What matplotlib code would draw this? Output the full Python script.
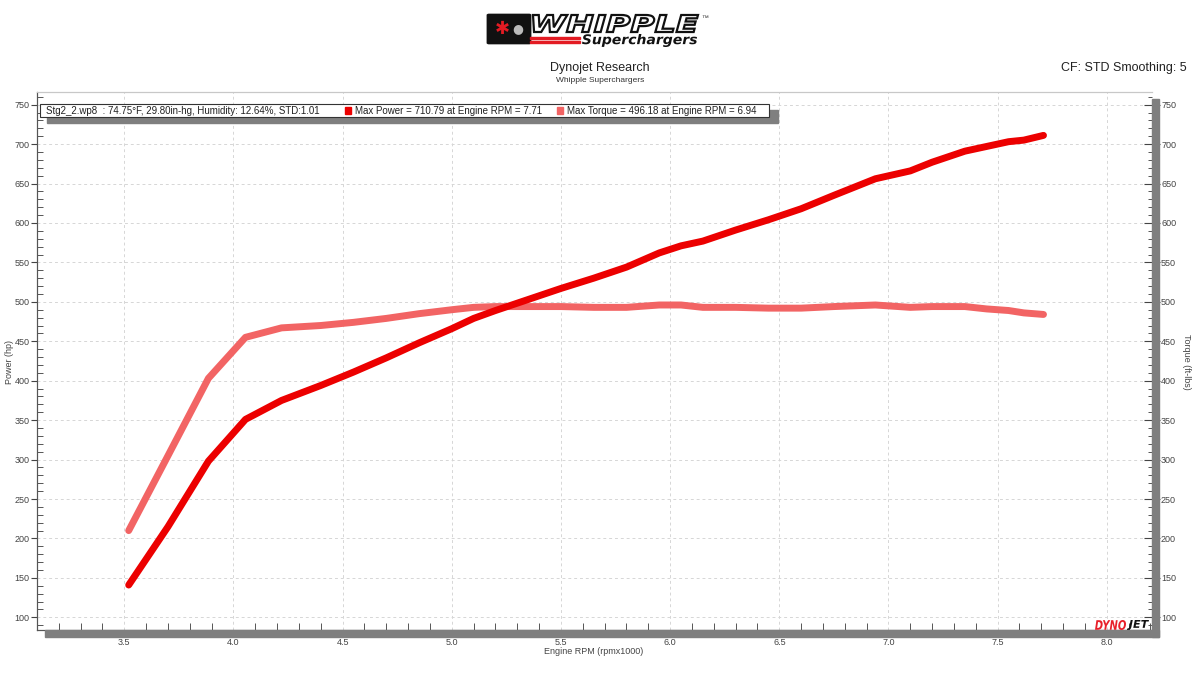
import matplotlib
matplotlib.use('agg')

import matplotlib.pyplot as plt
import matplotlib.ticker as ticker
from matplotlib.patches import Rectangle, FancyBboxPatch, PathPatch
from matplotlib.textpath import TextPath
from matplotlib.font_manager import FontProperties
from matplotlib.transforms import Affine2D, IdentityTransform
import numpy as np

# dyno run
rpm = [3.52, 3.70, 3.885, 4.055, 4.22, 4.40, 4.55, 4.70, 4.85, 5.00, 5.10,
       5.20, 5.35, 5.50, 5.65, 5.80, 5.95, 6.05, 6.15, 6.30, 6.45, 6.60,
       6.75, 6.94, 7.10, 7.20, 7.35, 7.45, 7.55, 7.62, 7.71]
torque = [210, 305, 403, 455, 467, 470, 474, 479, 485, 490, 493,
          494, 494, 494, 493, 493, 496, 496, 493, 493, 492, 492,
          494, 496, 493, 494, 494, 491, 489, 486, 484]
power = [141, 215, 298, 351, 375, 394, 411, 429, 448, 466, 479,
         489, 503, 517, 530, 544, 562, 571, 577, 591, 604, 618,
         635, 656, 666, 677, 691, 697, 703, 705, 711]

legend_run = 'Stg2_2.wp8  : 74.75°F, 29.80in-hg, Humidity: 12.64%, STD:1.01'
legend_power = 'Max Power = 710.79 at Engine RPM = 7.71'
legend_torque = 'Max Torque = 496.18 at Engine RPM = 6.94'

W, H = 1200, 674
POWER_C = '#ec0000'
TORQUE_C = '#f26464'
SHADOW = '#7f7f7f'
FONT = ['Liberation Sans', 'DejaVu Sans']


def fx(px):
    return px / W


def fy(py):
    return 1 - py / H


def prect(fig, x0, y0, x1, y1, **kw):
    """Rectangle given in pixel coords (top-left origin)."""
    r = Rectangle((fx(x0), fy(y1)), fx(x1) - fx(x0), fy(y0) - fy(y1),
                  transform=fig.transFigure, **kw)
    fig.add_artist(r)
    return r


def boxed_word(fig, word, x0, y0, x1, y1, **kw):
    """Draw a word stretched to fill a pixel box (top-left origin)."""
    prop = FontProperties(family='DejaVu Sans', weight='bold', style='italic')
    tp = TextPath((0, 0), word, size=1, prop=prop)
    ext = tp.get_extents()
    sx = (x1 - x0) / ext.width
    sy = (y1 - y0) / ext.height
    tr = (Affine2D().translate(-ext.x0, -ext.y0).scale(sx, sy)
          .translate(x0, H - y1) + IdentityTransform())
    patch = PathPatch(tp, transform=tr, **kw)
    fig.add_artist(patch)
    return patch


def main():
    plt.rcParams['font.family'] = FONT
    fig = plt.figure(figsize=(12, 6.74), dpi=100)
    fig.patch.set_facecolor('white')

    left, right, top, bottom = 37, 1152, 92, 630
    ax = fig.add_axes([fx(left), fy(bottom), fx(right) - fx(left), fy(top) - fy(bottom)])
    ax.set_xlim(3.1, 8.207)
    ax.set_ylim(84, 766)

    ax.plot(rpm, torque, color=TORQUE_C, lw=5, solid_capstyle='round',
            solid_joinstyle='round', zorder=4)
    ax.plot(rpm, power, color=POWER_C, lw=5, solid_capstyle='round',
            solid_joinstyle='round', zorder=5)

    # ticks
    ax.xaxis.set_major_locator(ticker.MultipleLocator(0.5))
    ax.xaxis.set_minor_locator(ticker.MultipleLocator(0.1))
    ax.yaxis.set_major_locator(ticker.MultipleLocator(50))
    ax.yaxis.set_minor_locator(ticker.MultipleLocator(10))
    ax.xaxis.set_major_formatter(ticker.FormatStrFormatter('%.1f'))
    ax.tick_params('x', which='major', direction='out', length=5, width=0.8,
                   color='#333333', labelsize=6.5, labelcolor='#444444', pad=1)
    ax.tick_params('x', which='minor', direction='in', length=5, width=0.7, color='#555555')
    ax.tick_params('y', which='major', direction='out', length=4, width=0.8,
                   color='#444444', labelsize=6.5, labelcolor='#444444', pad=1.5)
    ax.tick_params('y', which='minor', direction='in', length=4, width=0.7, color='#555555')

    ax2 = ax.twinx()
    ax2.set_ylim(ax.get_ylim())
    ax2.yaxis.set_major_locator(ticker.MultipleLocator(50))
    ax2.yaxis.set_minor_locator(ticker.MultipleLocator(10))
    ax2.tick_params('y', which='major', direction='inout', length=11, width=0.8,
                    color='#444444', labelsize=6.5, labelcolor='#444444', pad=1)
    ax2.tick_params('y', which='minor', direction='in', length=3, width=0.7, color='#555555')

    ax.grid(True, which='major', color='#d6d6d6', linestyle=(0, (3, 3)), lw=0.7)
    ax.set_axisbelow(True)

    for a in (ax, ax2):
        a.spines['top'].set_color('#c8c8c8')
        a.spines['top'].set_linewidth(0.8)
        a.spines['right'].set_visible(False)
        a.spines['left'].set_color('#555555')
        a.spines['left'].set_linewidth(0.8)
        a.spines['bottom'].set_color('#555555')
        a.spines['bottom'].set_linewidth(0.8)
    ax2.patch.set_visible(False)

    # shadow bars along bottom and right
    prect(fig, 45, 630, 1159, 637, color=SHADOW, zorder=1)
    prect(fig, 1152, 99, 1159, 637, color=SHADOW, zorder=1)

    # axis labels
    fig.text(fx(594), fy(652), 'Engine RPM (rpmx1000)', ha='center', va='center',
             fontsize=6.5, color='#444444')
    fig.text(fx(10), fy(362), 'Power (hp)', ha='center', va='center', rotation=90,
             fontsize=6.5, color='#444444')
    fig.text(fx(1186), fy(362), 'Torque (ft-lbs)', ha='center', va='center', rotation=270,
             fontsize=6.5, color='#444444')

    # titles
    fig.text(fx(600), fy(68), 'Dynojet Research', ha='center', va='center',
             fontsize=9, color='#222222')
    fig.text(fx(600), fy(81), 'Whipple Superchargers', ha='center', va='center',
             fontsize=6, color='#333333')
    fig.text(fx(1187), fy(68), 'CF: STD Smoothing: 5', ha='right', va='center',
             fontsize=9, color='#222222')

    # legend box with shadow
    prect(fig, 47, 110, 778, 123, color=SHADOW, zorder=6)
    prect(fig, 40, 104, 769, 117, facecolor='white', edgecolor='#333333', lw=0.8, zorder=7)
    fig.text(fx(46), fy(110.5), legend_run, ha='left', va='center', fontsize=7,
             color='#222222', zorder=8)
    prect(fig, 345, 107, 351, 114, color=POWER_C, zorder=8)
    fig.text(fx(355), fy(110.5), legend_power, ha='left', va='center', fontsize=7,
             color='#222222', zorder=8)
    prect(fig, 557, 107, 563, 114, color=TORQUE_C, zorder=8)
    fig.text(fx(567), fy(110.5), legend_torque, ha='left', va='center', fontsize=7,
             color='#222222', zorder=8)

    # whipple logo (approximation)
    badge = FancyBboxPatch((fx(489), fy(43)), fx(40), fy(15) - fy(43),
                           boxstyle='round,pad=0.002', transform=fig.transFigure,
                           facecolor='#111111', edgecolor='none', zorder=2)
    fig.add_artist(badge)
    fig.text(fx(502), fy(29), '✱', ha='center', va='center', fontsize=13,
             color='#e31b23', family='DejaVu Sans', zorder=3)
    fig.text(fx(518), fy(29), '●', ha='center', va='center', fontsize=9,
             color='#bbbbbb', family='DejaVu Sans', zorder=3)
    boxed_word(fig, 'WHIPPLE', 533, 15, 698, 32, facecolor='white',
               edgecolor='#111111', lw=1.6, zorder=3)
    fig.text(fx(701), fy(18), '™', ha='left', va='center', fontsize=5, color='#333333')
    prect(fig, 530, 37, 580, 39, color='#e31b23', zorder=3)
    prect(fig, 530, 41, 580, 43, color='#e31b23', zorder=3)
    boxed_word(fig, 'Superchargers', 582, 34, 697, 47, facecolor='#111111',
               edgecolor='none', zorder=3)

    # dynojet mark
    boxed_word(fig, 'DYNO', 1095, 620, 1126, 630, facecolor='#e8202a',
               edgecolor='none', zorder=9)
    boxed_word(fig, 'JET', 1127, 620, 1149, 630, facecolor='#111111',
               edgecolor='none', zorder=9)

    fig.savefig('out.png', dpi=100)


if __name__ == "__main__":
    main()
